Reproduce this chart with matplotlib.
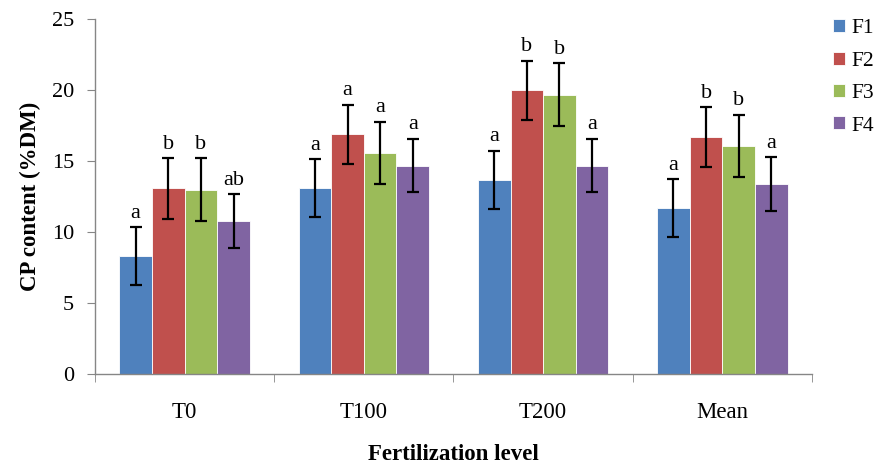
import numpy as np
import matplotlib.pyplot as plt

plt.rcParams['font.family'] = ['Liberation Serif', 'DejaVu Serif']

levels = ['T0', 'T100', 'T200', 'Mean']
series = ['F1', 'F2', 'F3', 'F4']
colors = ['#4F81BD', '#C0504D', '#9BBB59', '#8064A2']

F1 = [8.3, 13.1, 13.7, 11.7]
F2 = [13.1, 16.9, 20.0, 16.7]
F3 = [13.0, 15.6, 19.7, 16.1]
F4 = [10.8, 14.7, 14.7, 13.4]
err_F1 = [2.05, 2.05, 2.05, 2.05]
err_F2 = [2.15, 2.1, 2.1, 2.1]
err_F3 = [2.2, 2.2, 2.2, 2.2]
err_F4 = [1.9, 1.9, 1.9, 1.9]
letters_F1 = ['a', 'a', 'a', 'a']
letters_F2 = ['b', 'a', 'b', 'b']
letters_F3 = ['b', 'a', 'b', 'b']
letters_F4 = ['ab', 'a', 'a', 'a']

vals = [F1, F2, F3, F4]
errs = [err_F1, err_F2, err_F3, err_F4]
lets = [letters_F1, letters_F2, letters_F3, letters_F4]

fig = plt.figure(figsize=(8.86, 4.63), dpi=100)
ax = fig.add_axes([0.1072, 0.1922, 0.8093, 0.7657])

x = np.arange(len(levels))
w = 0.182
for i in range(4):
    pos = x + (i - 1.5) * w
    ax.bar(pos, vals[i], w, color=colors[i], edgecolor='white', linewidth=0.6,
           label=series[i], zorder=2)
    ax.errorbar(pos, vals[i], yerr=errs[i], fmt='none', ecolor='black',
                elinewidth=1.6, capsize=4, capthick=1.6, zorder=3)
    for j in range(len(levels)):
        ax.text(pos[j], vals[i][j] + errs[i][j] + 0.3, lets[i][j],
                ha='center', va='bottom', fontsize=16)

ax.set_xlim(-0.5, 3.5)
ax.set_ylim(0, 25)
ax.set_yticks([0, 5, 10, 15, 20, 25])
ax.set_xticks(x)
ax.set_xticklabels(levels, fontsize=16.5)
ax.set_xticks([-0.5, 0.5, 1.5, 2.5, 3.5], minor=True)
ax.tick_params(axis='x', which='major', length=0, pad=20)
ax.tick_params(axis='x', which='minor', length=6, color='#868686', direction='out')
ax.tick_params(axis='y', length=6, color='#868686', labelsize=16, pad=9)

for s in ['top', 'right']:
    ax.spines[s].set_visible(False)
for s in ['left', 'bottom']:
    ax.spines[s].set_color('#868686')
    ax.spines[s].set_linewidth(1.0)

ax.set_ylabel('CP content (%DM)', fontsize=16.5, fontweight='bold', labelpad=8)
ax.set_xlabel('Fertilization level', fontsize=16.5, fontweight='bold', labelpad=15)

ax.legend(loc='upper left', bbox_to_anchor=(0.993, 1.074), frameon=False,
          fontsize=15.5, handlelength=0.55, handleheight=0.55, handletextpad=0.3,
          labelspacing=0.62, borderaxespad=0.8)

fig.savefig('out.png', dpi=100)
